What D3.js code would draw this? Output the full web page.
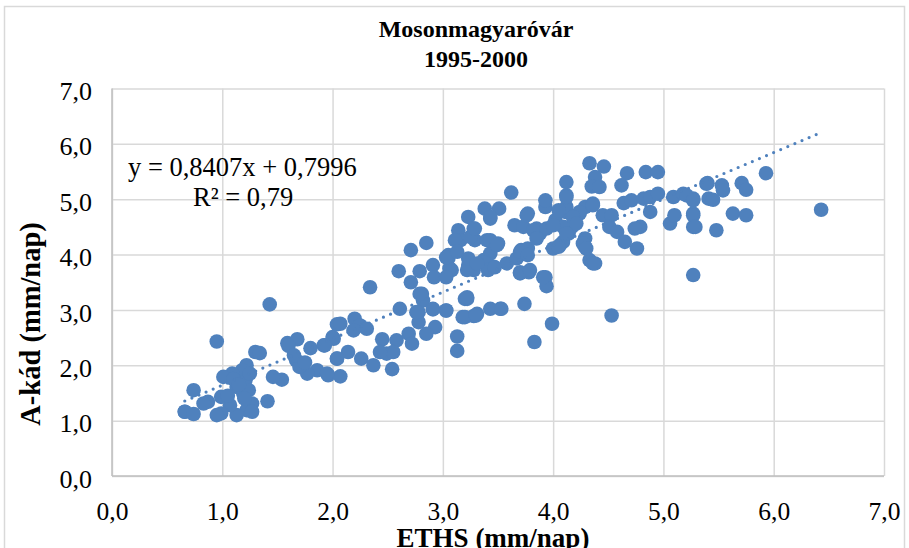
<!DOCTYPE html>
<html>
<head>
<meta charset="utf-8">
<script src="https://cdn.jsdelivr.net/npm/d3@7"></script>
<style>
  body { margin: 0; background: #fff; }
  svg { display: block; font-family: "Liberation Serif", "Times New Roman", serif; }
</style>
</head>
<body>
<svg id="chart" width="909" height="548"></svg>
<script>
// ETHS (x) and A-kad (y) values, mm/nap
const ethsX = [
  1.43, 0.95, 1.30, 1.34, 1.59, 1.68, 1.80, 1.92, 2.04, 2.00, 2.04, 1.96, 1.86, 1.77, 1.67, 1.70, 1.54, 1.46,
  1.22, 1.18, 1.09, 1.01, 1.21, 1.13, 1.19, 1.27, 1.22, 1.13, 1.07, 0.99, 0.99, 0.95, 0.87, 0.83, 0.74, 0.66,
  0.66, 0.74, 1.41, 1.27, 1.24, 1.25, 1.10, 1.15, 1.05, 1.20, 1.60, 1.65, 1.75,
  2.34, 2.60, 2.71, 2.79, 2.91, 2.92, 2.71, 3.05, 3.08, 3.23, 3.28, 2.81, 2.82, 3.20, 2.61, 2.78, 2.78, 2.91,
  3.03, 2.93, 2.85, 3.18, 3.28, 3.13, 3.13, 2.07, 2.20, 2.25, 2.31, 2.19, 2.01, 1.93, 2.45, 2.58, 2.69, 2.72,
  2.49, 2.55, 2.26, 2.37, 2.14, 2.04, 2.54, 2.07, 1.95, 2.43,
  3.38, 3.51, 3.43, 3.23, 3.14, 3.16, 3.28, 3.29, 3.40, 3.50, 3.43, 3.37, 3.46, 3.26, 3.22, 3.05, 3.06, 3.58,
  3.67, 3.71, 3.77, 3.65, 3.77, 3.73, 3.85, 3.93, 4.02, 4.11, 4.17, 4.09, 4.00, 3.88, 3.70, 3.78, 3.93, 3.94,
  3.22, 3.74, 3.52, 3.43, 3.31, 3.20, 3.03, 3.99, 3.83,
  4.33, 4.46, 4.38, 4.35, 4.42, 4.12, 4.67, 4.62, 4.84, 4.95, 4.12, 4.12, 4.29, 4.36, 4.64, 4.71, 4.82, 4.88,
  4.95, 5.09, 5.18, 5.27, 5.39, 5.41, 4.88, 4.79, 4.74, 5.06, 5.10, 5.27, 5.27, 4.24, 4.18, 4.45, 4.53, 4.51,
  4.58, 4.65, 4.76, 4.09, 4.14, 4.06, 4.29, 4.29, 4.33, 4.36, 5.27, 4.53,
  5.93, 5.71, 5.75, 5.53, 5.54, 5.40, 5.21, 5.27, 5.45, 5.27, 5.29, 5.63, 5.75, 5.48, 6.43,
  3.62, 3.93, 4.12, 3.43, 3.11, 3.25, 3.29, 3.43, 3.49, 3.76, 3.82, 3.94, 3.85, 4.00, 4.05, 4.24, 4.36, 4.18,
  4.21, 4.12, 4.05, 4.27, 4.30, 4.38, 3.03, 3.23, 3.37, 3.41, 3.47, 3.70, 3.77, 3.70, 3.79, 3.91, 3.22, 2.79,
  3.30, 3.53, 2.91, 2.76, 2.85, 3.13, 3.03, 3.31
];
const akadY = [
  3.10, 2.43, 2.24, 2.22, 2.40, 2.47, 2.31, 2.36, 2.74, 2.51, 2.12, 1.82, 1.91, 1.85, 2.09, 1.97, 1.74, 1.79,
  2.00, 1.91, 1.85, 1.79, 1.73, 1.61, 1.49, 1.31, 1.19, 1.10, 1.28, 1.43, 1.13, 1.10, 1.34, 1.31, 1.55, 1.16,
  1.16, 1.12, 1.35, 1.16, 1.55, 1.85, 1.75, 1.65, 1.45, 1.40, 2.35, 2.18, 2.05,
  3.41, 3.70, 3.50, 3.70, 3.81, 3.59, 4.08, 3.99, 3.72, 3.81, 3.72, 3.29, 3.17, 3.20, 3.02, 2.96, 2.78, 3.01,
  2.99, 2.69, 2.57, 2.87, 2.89, 2.52, 2.26, 2.75, 2.84, 2.72, 2.66, 2.63, 2.48, 2.36, 2.47, 2.45, 2.57, 2.39,
  2.21, 2.24, 2.12, 2.00, 2.24, 2.12, 1.93, 1.80, 1.85, 2.24,
  4.83, 4.83, 4.65, 4.68, 4.44, 4.26, 4.47, 4.26, 4.26, 4.20, 4.02, 3.90, 3.78, 3.84, 3.72, 3.93, 3.75, 3.84,
  3.93, 4.08, 4.11, 4.53, 4.74, 4.50, 4.47, 4.86, 4.62, 4.77, 4.50, 4.23, 4.11, 4.38, 3.66, 3.68, 3.59, 3.43,
  3.20, 3.11, 3.02, 3.02, 2.93, 2.87, 2.99, 2.75, 2.42,
  5.65, 5.59, 5.40, 5.23, 5.22, 5.31, 5.47, 5.25, 5.49, 5.49, 5.07, 4.86, 4.86, 4.92, 4.93, 4.98, 5.01, 5.04,
  5.10, 5.04, 5.10, 5.01, 5.28, 5.01, 4.77, 4.50, 4.47, 4.56, 4.71, 4.74, 4.50, 4.74, 4.56, 4.71, 4.71, 4.50,
  4.41, 4.23, 4.11, 4.50, 4.38, 4.17, 4.29, 4.14, 3.90, 3.84, 3.63, 2.90,
  5.47, 5.29, 5.17, 5.25, 5.16, 5.29, 5.07, 4.98, 4.99, 4.71, 4.50, 4.74, 4.71, 4.44, 4.81,
  5.12, 4.98, 5.04, 4.68, 4.26, 4.32, 4.47, 4.26, 4.17, 4.71, 4.44, 4.47, 4.29, 4.53, 4.80, 4.77, 4.89, 4.68,
  4.56, 4.38, 4.14, 4.20, 4.11, 3.84, 3.95, 3.93, 3.86, 3.72, 3.77, 4.05, 3.99, 3.68, 3.72, 3.59, 3.23, 3.29,
  2.90, 3.02, 3.02, 2.96, 4.21, 4.05, 3.59, 3.84
];

const xTickLabels = ["0,0", "1,0", "2,0", "3,0", "4,0", "5,0", "6,0", "7,0"];
const yTickLabels = ["0,0", "1,0", "2,0", "3,0", "4,0", "5,0", "6,0", "7,0"];
const tickValues = [0, 1, 2, 3, 4, 5, 6, 7];

// linear trendline as printed on the chart
const slope = 0.8407;
const intercept = 0.7996;
const titleLines = ["Mosonmagyaróvár", "1995-2000"];

const blue = "#4f81bd";
const gridColor = "#d9d9d9";

const svg = d3.select("#chart");

//chart area border
svg.append("rect")
    .attr("x", 4.5).attr("y", 6.5)
    .attr("width", 900).attr("height", 560)
    .attr("fill", "#fff")
    .attr("stroke", gridColor)
    .attr("stroke-width", 1.5);

const plot = {left: 112, right: 884, top: 88.5, bottom: 476};

var x = d3.scaleLinear().domain([0, 7]).range([plot.left, plot.right]);
var y = d3.scaleLinear().domain([0, 7]).range([plot.bottom, plot.top]);

//Gridlines
svg.append("g")
    .attr("transform", "translate(0," + plot.bottom + ")")
    .call(d3.axisBottom(x).tickValues(tickValues).tickSize(-(plot.bottom - plot.top)).tickFormat(""))
    .call(g => g.select(".domain").remove())
    .call(g => g.selectAll("line").attr("stroke", gridColor).attr("stroke-width", 1.5));

svg.append("g")
    .attr("transform", "translate(" + plot.left + ",0)")
    .call(d3.axisLeft(y).tickValues(tickValues).tickSize(-(plot.right - plot.left)).tickFormat(""))
    .call(g => g.select(".domain").remove())
    .call(g => g.selectAll("line").attr("stroke", gridColor).attr("stroke-width", 1.5));

//Axis lines
svg.append("line")
    .attr("x1", plot.left).attr("x2", plot.right)
    .attr("y1", plot.bottom).attr("y2", plot.bottom)
    .attr("stroke", "#bfbfbf").attr("stroke-width", 1.5);
svg.append("line")
    .attr("x1", plot.left).attr("x2", plot.left)
    .attr("y1", plot.top).attr("y2", plot.bottom)
    .attr("stroke", "#bfbfbf").attr("stroke-width", 1.5);

//Tick labels
svg.append("g")
    .attr("transform", "translate(0," + plot.bottom + ")")
    .call(d3.axisBottom(x).tickValues(tickValues).tickSize(0).tickPadding(0)
        .tickFormat((d, i) => xTickLabels[i]))
    .call(g => g.select(".domain").remove())
    .call(g => g.selectAll("text")
        .attr("dy", null).attr("y", 44)
        .attr("font-family", "Liberation Serif").attr("font-size", 25.5).attr("fill", "#000"));

svg.append("g")
    .attr("transform", "translate(" + plot.left + ",0)")
    .call(d3.axisLeft(y).tickValues(tickValues).tickSize(0).tickPadding(0)
        .tickFormat((d, i) => yTickLabels[i]))
    .call(g => g.select(".domain").remove())
    .call(g => g.selectAll("text")
        .attr("dy", "0.35em").attr("x", -20).attr("y", 2)
        .attr("font-family", "Liberation Serif").attr("font-size", 26).attr("fill", "#000"));

//Points
const points = ethsX.map((d, i) => ({x: d, y: akadY[i]}));
svg.append("g")
    .selectAll("circle")
    .data(points)
    .enter().append("circle")
    .attr("cx", d => x(d.x))
    .attr("cy", d => y(d.y))
    .attr("r", 7.3)
    .attr("fill", blue);

//Trendline (dotted)
const xExt = d3.extent(ethsX);
svg.append("line")
    .attr("x1", x(xExt[0])).attr("y1", y(slope * xExt[0] + intercept))
    .attr("x2", x(xExt[1])).attr("y2", y(slope * xExt[1] + intercept))
    .attr("stroke", blue)
    .attr("stroke-width", 3.2)
    .attr("stroke-linecap", "round")
    .attr("stroke-dasharray", "0 7.7");

//Equation
svg.append("text")
    .attr("x", 128).attr("y", 176)
    .attr("font-size", 26.5)
    .text("y = 0,8407x + 0,7996");
svg.append("text")
    .attr("x", 193).attr("y", 206)
    .attr("font-size", 26.5)
    .text("R² = 0,79");

//Title
svg.append("text")
    .attr("x", 476).attr("y", 37)
    .attr("text-anchor", "middle")
    .attr("font-size", 24).attr("font-weight", "bold")
    .selectAll("tspan")
    .data(titleLines)
    .enter().append("tspan")
    .attr("x", 476)
    .attr("dy", (d, i) => i === 0 ? 0 : 30)
    .text(d => d);

//Axis titles
svg.append("text")
    .attr("x", 493).attr("y", 547)
    .attr("text-anchor", "middle")
    .attr("font-size", 27).attr("font-weight", "bold")
    .text("ETHS (mm/nap)");

svg.append("text")
    .attr("transform", "translate(40,324)rotate(-90)")
    .attr("text-anchor", "middle")
    .attr("font-size", 28.5).attr("font-weight", "bold")
    .text("A-kád (mm/nap)");
</script>
</body>
</html>
